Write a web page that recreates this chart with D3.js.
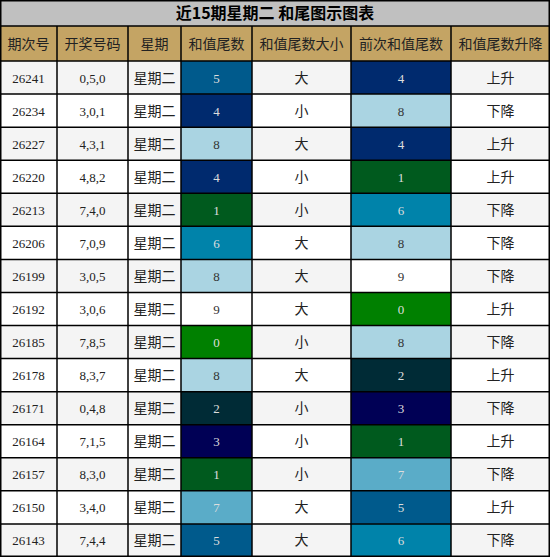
<!DOCTYPE html>
<html><head><meta charset="utf-8">
<script src="https://cdn.jsdelivr.net/npm/d3@7"></script>
<style>body{margin:0;background:#fff}</style>
</head><body>
<script>
const title = "近15期星期二 和尾图示图表";
const headers = ["期次号", "开奖号码", "星期", "和值尾数", "和值尾数大小", "前次和值尾数", "和值尾数升降"];
const periods = ["26241","26234","26227","26220","26213","26206","26199","26192","26185","26178","26171","26164","26157","26150","26143"];
const draws = ["0,5,0","3,0,1","4,3,1","4,8,2","7,4,0","7,0,9","3,0,5","3,0,6","7,8,5","8,3,7","0,4,8","7,1,5","8,3,0","3,4,0","7,4,4"];
const tails = [5,4,8,4,1,6,8,9,0,8,2,3,1,7,5];
const sizes = ["大","小","大","小","小","大","大","大","小","大","小","小","小","大","大"];
const prevTails = [4,8,4,1,6,8,9,0,8,2,3,1,7,5,6];
const trends = ["上升","下降","上升","上升","下降","下降","下降","上升","下降","上升","下降","上升","下降","上升","下降"];
const tailColors = ["#008000","#005a1e","#002b36","#000055","#002a6e","#005a8c","#0083aa","#5aacc8","#aad4e2","#ffffff"];

const W = 550, H = 557, titleH = 26, headH = 35;
const colEdges = [0, 57, 128, 181, 252, 351, 451, 550];
const svg = d3.select("body").append("svg").attr("width", W).attr("height", H);
const y = d3.scaleBand().domain(d3.range(periods.length)).range([titleH + headH, H]);

svg.append("rect").attr("width", W).attr("height", titleH).attr("fill", "#c0c0c0");
svg.append("text").attr("x", W / 2).attr("y", 19).attr("text-anchor", "middle")
  .attr("font-family", "Noto Sans CJK SC").attr("font-weight", "bold").attr("font-size", 16).text(title);

headers.forEach((h, i) => {
  svg.append("rect").attr("x", colEdges[i]).attr("y", titleH).attr("width", colEdges[i + 1] - colEdges[i]).attr("height", headH).attr("fill", "#c4a464");
  svg.append("text").attr("x", (colEdges[i] + colEdges[i + 1]) / 2).attr("y", titleH + headH / 2 + 5)
    .attr("text-anchor", "middle").attr("font-family", "Noto Sans CJK SC").attr("font-size", 14).attr("fill", "#222").text(h);
});

const serif = "Liberation Serif", sans = "Noto Sans CJK SC";
periods.forEach((p, r) => {
  const cells = [
    [p, null, serif], [draws[r], null, serif], ["星期二", null, sans],
    [tails[r], tailColors[tails[r]], serif], [sizes[r], null, sans],
    [prevTails[r], tailColors[prevTails[r]], serif], [trends[r], null, sans]
  ];
  const y0 = y(r), h = y.bandwidth();
  cells.forEach(([t, c, f], i) => {
    const bg = c || (r % 2 === 0 ? "#f4f4f4" : "#ffffff");
    svg.append("rect").attr("x", colEdges[i]).attr("y", y0).attr("width", colEdges[i + 1] - colEdges[i]).attr("height", h).attr("fill", bg);
    const light = c && !["#ffffff", "#aad4e2"].includes(c);
    svg.append("text").attr("x", (colEdges[i] + colEdges[i + 1]) / 2).attr("y", y0 + h / 2 + 5)
      .attr("text-anchor", "middle").attr("font-family", f).attr("font-size", f === serif ? 13 : 14)
      .attr("fill", light ? "#dddddd" : (c ? "#333" : "#222")).text(t);
  });
});

// grid lines
const g = svg.append("g").attr("stroke", "#000").attr("stroke-width", 1.5);
colEdges.forEach(x => g.append("line").attr("x1", x === W ? W - 0.75 : Math.max(x, 0.75)).attr("x2", x === W ? W - 0.75 : Math.max(x, 0.75)).attr("y1", x === 0 || x === W ? 0 : titleH).attr("y2", H));
[0.75, titleH, titleH + headH].concat(d3.range(1, periods.length).map(r => y(r)), [H - 0.75])
  .forEach(v => g.append("line").attr("x1", 0).attr("x2", W).attr("y1", v).attr("y2", v));
</script>
</body></html>
